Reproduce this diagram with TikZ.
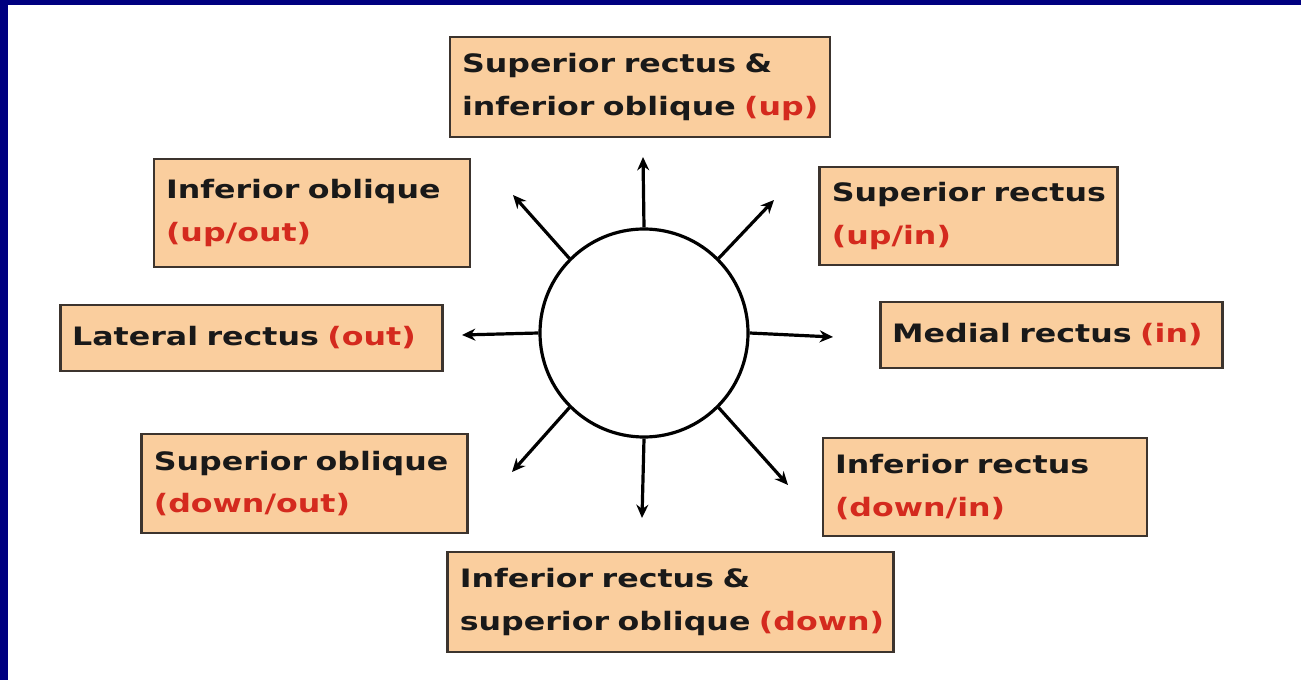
\documentclass[tikz,border=0pt]{standalone}
\usepackage{fontspec}
\newfontfamily\lbl{DejaVu Sans}[FakeStretch=1.25]
\usetikzlibrary{arrows.meta}
\definecolor{navy}{RGB}{0,0,128}
\definecolor{peach}{RGB}{250,206,158}
\definecolor{boxline}{RGB}{60,52,46}
\definecolor{dirred}{RGB}{212,42,30}
\newcommand{\dir}[1]{\textcolor{dirred}{#1}}
\newcommand{\oneline}[1]{\mbox{#1}}
\tikzset{
  mbox/.style n args={2}{draw=boxline, line width=2.2pt, fill=peach, rectangle,
    text width=#1, minimum height=#2, inner xsep=9pt, inner ysep=0pt, align=left,
    font=\lbl\bfseries\fontsize{19}{32}\selectfont, text=black!90},
  pull/.style={line width=2.4pt, -{Stealth[length=10pt,width=9pt]}},
}
\begin{document}
\begin{tikzpicture}[x=0.75pt,y=-0.75pt]
\fill[navy] (0,0) rectangle (1301,680);
\fill[white] (8,5) rectangle (1301,680);
\useasboundingbox (0,0) rectangle (1301,680);

\node[mbox={267pt}{75pt}] (top) at (640,87) {\oneline{Superior rectus \&}\\\oneline{inferior oblique \dir{(up)}}};
\node[mbox={219pt}{81pt}] (ul) at (312,213) {\oneline{Inferior oblique}\\\oneline{\dir{(up/out)}}};
\node[mbox={269pt}{49.5pt}] (lat) at (251.5,338) {\oneline{Lateral rectus \dir{(out)}}};
\node[mbox={226pt}{74.25pt}] (dl) at (304.5,483.5) {\oneline{Superior oblique}\\\oneline{\dir{(down/out)}}};
\node[mbox={205pt}{73.5pt}] (ur) at (968.5,216) {\oneline{Superior rectus}\\\oneline{\dir{(up/in)}}};
\node[mbox={239pt}{49.5pt}] (med) at (1051.5,335) {\oneline{Medial rectus \dir{(in)}}};
\node[mbox={225pt}{73.5pt}] (dr) at (985,487) {\oneline{Inferior rectus}\\\oneline{\dir{(down/in)}}};
\node[mbox={316pt}{75pt}] (bot) at (670.5,602) {\oneline{Inferior rectus \&}\\\oneline{superior oblique \dir{(down)}}};

\node[circle, draw=black, line width=2.4pt, fill=white, minimum size=156pt, inner sep=0pt] (eye) at (644,333) {};

\coordinate (tU) at (643,157);
\coordinate (tUL) at (513,195);
\coordinate (tUR) at (774,200);
\coordinate (tL) at (462,335);
\coordinate (tR) at (833,337);
\coordinate (tDL) at (512,472);
\coordinate (tD) at (642,518);
\coordinate (tDR) at (788,485);

\draw[pull] (eye.north) -- (tU);
\draw[pull] (eye.135) -- (tUL);
\draw[pull] (eye.45) -- (tUR);
\draw[pull] (eye.west) -- (tL);
\draw[pull] (eye.east) -- (tR);
\draw[pull] (eye.225) -- (tDL);
\draw[pull] (eye.south) -- (tD);
\draw[pull] (eye.315) -- (tDR);
\end{tikzpicture}
\end{document}
